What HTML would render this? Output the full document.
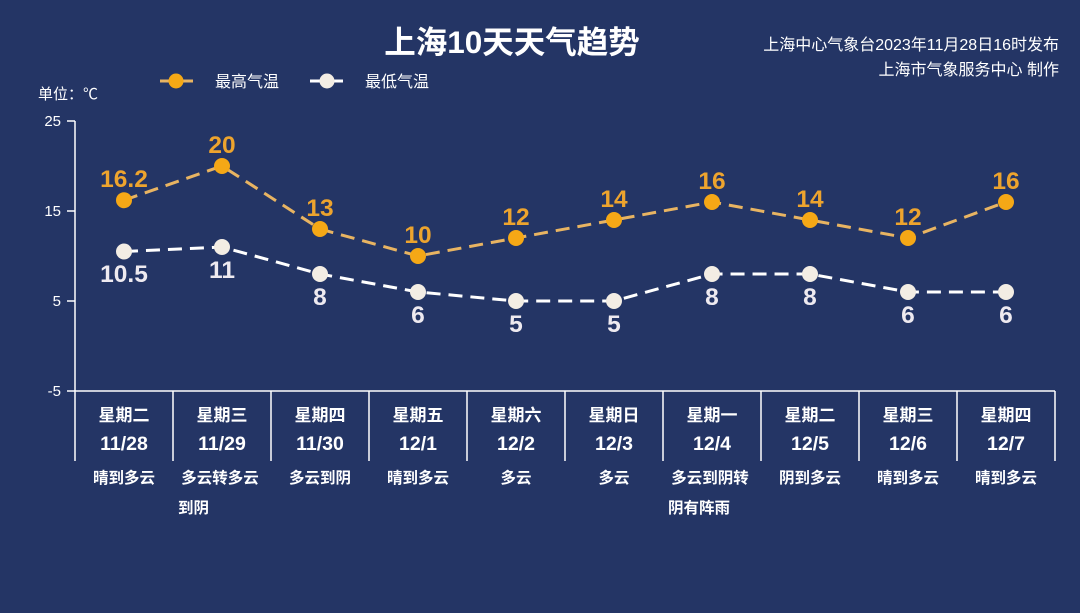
<!DOCTYPE html>
<html><head><meta charset="utf-8"><style>
html,body{margin:0;padding:0;background:#243565;}
svg{display:block;}
text{font-family:"Liberation Sans","Noto Sans CJK SC",sans-serif;}
</style></head><body>
<svg width="1080" height="613" viewBox="0 0 1080 613" xmlns="http://www.w3.org/2000/svg">
<rect width="1080" height="613" fill="#243565"/>
<text x="512" y="53" text-anchor="middle" font-size="31.5" font-weight="bold" fill="#ffffff">上海10天天气趋势</text>
<text x="1059" y="50" text-anchor="end" font-size="16" fill="#ffffff">上海中心气象台2023年11月28日16时发布</text>
<text x="1059" y="75" text-anchor="end" font-size="16" fill="#ffffff">上海市气象服务中心 制作</text>
<!-- legend -->
<line x1="160" y1="81" x2="193" y2="81" stroke="#e8b462" stroke-width="3"/>
<circle cx="176" cy="81" r="7.5" fill="#f5a816"/>
<text x="215" y="87" font-size="16" fill="#ffffff">最高气温</text>
<line x1="310" y1="81" x2="343" y2="81" stroke="#ffffff" stroke-width="3"/>
<circle cx="327" cy="81" r="7.5" fill="#f3ede4"/>
<text x="365" y="87" font-size="16" fill="#ffffff">最低气温</text>
<text x="38" y="99" font-size="15" fill="#ffffff">单位：℃</text>
<!-- axes -->
<g stroke="#ffffff" stroke-width="1.5" fill="none">
<line x1="75" y1="121" x2="75" y2="391"/>
<line x1="67" y1="121" x2="75" y2="121"/>
<line x1="67" y1="211" x2="75" y2="211"/>
<line x1="67" y1="301" x2="75" y2="301"/>
<line x1="67" y1="391" x2="1055" y2="391"/>
<line x1="75" y1="391" x2="75" y2="461"/>
<line x1="173" y1="391" x2="173" y2="461"/>
<line x1="271" y1="391" x2="271" y2="461"/>
<line x1="369" y1="391" x2="369" y2="461"/>
<line x1="467" y1="391" x2="467" y2="461"/>
<line x1="565" y1="391" x2="565" y2="461"/>
<line x1="663" y1="391" x2="663" y2="461"/>
<line x1="761" y1="391" x2="761" y2="461"/>
<line x1="859" y1="391" x2="859" y2="461"/>
<line x1="957" y1="391" x2="957" y2="461"/>
<line x1="1055" y1="391" x2="1055" y2="461"/>
</g>
<g font-size="15" fill="#ffffff" text-anchor="end">
<text x="61" y="126">25</text>
<text x="61" y="216">15</text>
<text x="61" y="306">5</text>
<text x="61" y="396">-5</text>
</g>
<!-- category labels -->
<g font-size="17" font-weight="bold" fill="#ffffff" text-anchor="middle">
<text x="124" y="421">星期二</text><text x="222" y="421">星期三</text><text x="320" y="421">星期四</text><text x="418" y="421">星期五</text><text x="516" y="421">星期六</text><text x="614" y="421">星期日</text><text x="712" y="421">星期一</text><text x="810" y="421">星期二</text><text x="908" y="421">星期三</text><text x="1006" y="421">星期四</text>
</g>
<g font-size="19.5" font-weight="bold" fill="#ffffff" text-anchor="middle">
<text x="124" y="450">11/28</text><text x="222" y="450">11/29</text><text x="320" y="450">11/30</text><text x="418" y="450">12/1</text><text x="516" y="450">12/2</text><text x="614" y="450">12/3</text><text x="712" y="450">12/4</text><text x="810" y="450">12/5</text><text x="908" y="450">12/6</text><text x="1006" y="450">12/7</text>
</g>
<g font-size="15.5" font-weight="bold" fill="#ffffff" text-anchor="middle">
<text x="124" y="483">晴到多云</text>
<text x="220" y="483">多云转多云</text>
<text x="320" y="483">多云到阴</text>
<text x="418" y="483">晴到多云</text>
<text x="516" y="483">多云</text>
<text x="614" y="483">多云</text>
<text x="710" y="483">多云到阴转</text>
<text x="810" y="483">阴到多云</text>
<text x="908" y="483">晴到多云</text>
<text x="1006" y="483">晴到多云</text>
<text x="178" y="513" text-anchor="start">到阴</text>
<text x="668" y="513" text-anchor="start">阴有阵雨</text>
</g>
<!-- series -->
<polyline points="124,200.2 222,166 320,229 418,256 516,238 614,220 712,202 810,220 908,238 1006,202" fill="none" stroke="#e8b462" stroke-width="3" stroke-dasharray="14,8"/>
<polyline points="124,251.5 222,247 320,274 418,292 516,301 614,301 712,274 810,274 908,292 1006,292" fill="none" stroke="#ffffff" stroke-width="3" stroke-dasharray="14,8"/>
<g fill="#f5a816">
<circle cx="124" cy="200.2" r="8"/><circle cx="222" cy="166" r="8"/><circle cx="320" cy="229" r="8"/><circle cx="418" cy="256" r="8"/><circle cx="516" cy="238" r="8"/><circle cx="614" cy="220" r="8"/><circle cx="712" cy="202" r="8"/><circle cx="810" cy="220" r="8"/><circle cx="908" cy="238" r="8"/><circle cx="1006" cy="202" r="8"/>
</g>
<g fill="#f3ede4">
<circle cx="124" cy="251.5" r="8"/><circle cx="222" cy="247" r="8"/><circle cx="320" cy="274" r="8"/><circle cx="418" cy="292" r="8"/><circle cx="516" cy="301" r="8"/><circle cx="614" cy="301" r="8"/><circle cx="712" cy="274" r="8"/><circle cx="810" cy="274" r="8"/><circle cx="908" cy="292" r="8"/><circle cx="1006" cy="292" r="8"/>
</g>
<g font-size="24.5" font-weight="bold" fill="#eda42e" text-anchor="middle">
<text x="124" y="187">16.2</text><text x="222" y="153">20</text><text x="320" y="216">13</text><text x="418" y="243">10</text><text x="516" y="225">12</text><text x="614" y="207">14</text><text x="712" y="189">16</text><text x="810" y="207">14</text><text x="908" y="225">12</text><text x="1006" y="189">16</text>
</g>
<g font-size="24.5" font-weight="bold" fill="#eeeaf0" text-anchor="middle">
<text x="124" y="282">10.5</text><text x="222" y="278">11</text><text x="320" y="305">8</text><text x="418" y="323">6</text><text x="516" y="332">5</text><text x="614" y="332">5</text><text x="712" y="305">8</text><text x="810" y="305">8</text><text x="908" y="323">6</text><text x="1006" y="323">6</text>
</g>
</svg>
</body></html>
